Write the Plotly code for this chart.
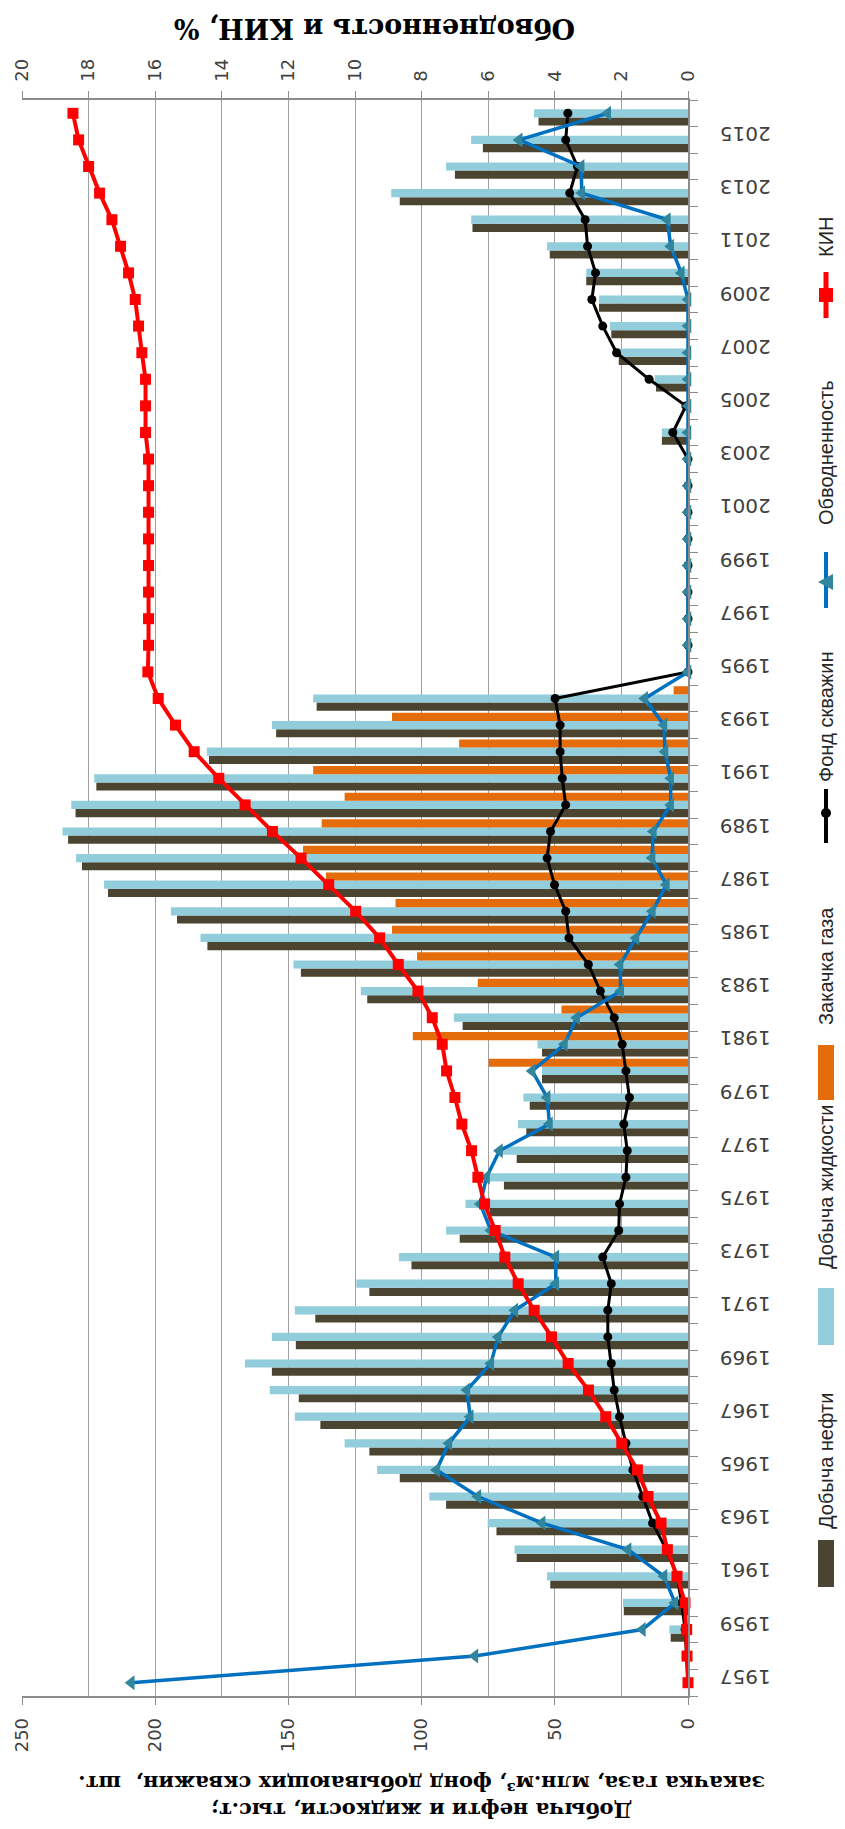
import plotly.graph_objects as go

# ---- data -------------------------------------------------------------
years = list(range(1957, 2017))

# Добыча нефти, тыс.т
oil = [0, 0, 6.5, 24.1, 51.7, 64.3, 71.9, 90.8, 108.2, 119.6,
       138.0, 146.1, 156.2, 147.2, 139.9, 119.6, 103.8, 85.7, 74.5, 69.1,
       64.3, 60.7, 59.4, 54.8, 54.8, 84.6, 120.4, 145.3, 180.4, 191.8,
       217.7, 227.5, 232.7, 229.9, 222.1, 179.8, 154.6, 139.4, 0, 0,
       0, 0, 0, 0, 0, 0, 0, 9.8, 0, 12.0,
       26.0, 28.8, 33.4, 38.2, 51.9, 80.9, 108.2, 87.5, 77.0, 56.1]

# Добыча жидкости, тыс.т
liquid = [0, 0, 7.0, 24.4, 52.9, 65.1, 75.2, 97.1, 116.7, 128.9,
          147.6, 157.0, 166.3, 156.2, 147.6, 124.5, 108.5, 90.8, 83.5, 74.8,
          70.8, 63.8, 61.8, 54.8, 56.5, 87.9, 122.8, 148.1, 183.0, 194.1,
          219.2, 229.7, 234.8, 231.5, 222.9, 180.6, 156.2, 140.7, 0, 0,
          0, 0, 0, 0, 0, 0, 0, 9.8, 0, 12.5,
          26.5, 29.3, 33.4, 38.2, 52.9, 81.4, 111.4, 90.8, 81.4, 57.8]

# Закачка газа, млн.м3
gas = [None] * 23 + [74.8, 103.3, 47.5, 78.9, 101.7, 111.1, 109.8,
                     135.9, 144.5, 137.5, 128.9, 140.7, 85.9, 111.1, 5.4] + [None] * 22

# Фонд добывающих скважин, шт.
wells = [0, 0.5, 1.1, 2.4, 4.1, 8.1, 13.3, 17.0, 20.7, 23.3,
         25.7, 27.7, 28.8, 30.1, 30.1, 28.8, 32.0, 26.0, 25.7, 23.3,
         22.8, 24.1, 22.0, 23.3, 24.7, 27.7, 32.9, 37.4, 44.7, 45.9,
         50.1, 52.9, 51.6, 45.9, 47.2, 48.0, 48.0, 49.9, 0, 0,
         0, 0, 0, 0, 0, 0, 0, 5.7, 0.8, 14.6,
         26.8, 32.0, 36.1, 34.7, 37.7, 38.6, 44.4, 41.5, 45.9, 45.1]

# Обводненность, %
water_cut = [16.72, 6.40, 1.37, 0.39, 0.72, 1.80, 4.38, 6.31, 7.55, 7.18,
             6.54, 6.64, 5.92, 5.70, 5.20, 3.97, 3.97, 5.92, 6.24, 6.05,
             5.66, 4.16, 4.23, 4.68, 3.71, 3.34, 2.02, 2.04, 1.56, 1.07,
             0.65, 1.08, 1.04, 0.52, 0.52, 0.69, 0.72, 1.30, 0, 0,
             0, 0, 0, 0, 0, 0, 0, 0, 0, 0,
             0, 0, 0, 0.20, 0.52, 0.62, 3.19, 3.21, 5.07, 2.41]

# КИН, %
kin = [0.0, 0.03, 0.04, 0.09, 0.33, 0.62, 0.81, 1.20, 1.52, 1.99,
       2.47, 2.99, 3.60, 4.10, 4.62, 5.10, 5.50, 5.79, 6.11, 6.31,
       6.50, 6.79, 7.00, 7.25, 7.38, 7.68, 8.11, 8.70, 9.26, 9.98,
       10.79, 11.62, 12.48, 13.30, 14.09, 14.83, 15.39, 15.91, 16.22, 16.20,
       16.20, 16.20, 16.20, 16.20, 16.20, 16.20, 16.20, 16.29, 16.29, 16.29,
       16.40, 16.50, 16.60, 16.80, 17.04, 17.30, 17.67, 18.00, 18.30, 18.47]

year_ticks = list(range(1957, 2016, 2))
year_labels = [str(y) for y in year_ticks]
left_ticks = [0, 50, 100, 150, 200, 250]
right_ticks = list(range(0, 21, 2))

# ---- page geometry (pixels) ------------------------------------------
W, H = 845, 1829
PL, PR, PT, PB = 22, 688, 100, 1696


def fx(xp):
    return (xp - PL) / (PR - PL)


def fy(yp):
    return (PB - yp) / (PB - PT)


C_OIL = "#4A4431"
C_LIQ = "#92CDDC"
C_GAS = "#E46C0A"
C_WC_LINE = "#0070C0"
C_WC_MARK = "#31859C"
C_KIN = "#FF0000"
GRID = "#A0A0A0"
AXIS = "#8C8C8C"

fig = go.Figure()

fig.add_trace(go.Bar(y=years, x=oil, orientation="h", name="Добыча нефти",
                     marker=dict(color=C_OIL, line=dict(width=0))))
fig.add_trace(go.Bar(y=years, x=liquid, orientation="h", name="Добыча жидкости",
                     marker=dict(color=C_LIQ, line=dict(width=0))))
fig.add_trace(go.Bar(y=years, x=gas, orientation="h", name="Закачка газа",
                     marker=dict(color=C_GAS, line=dict(width=0))))

fig.add_trace(go.Scatter(y=years, x=wells, mode="lines+markers", name="Фонд скважин",
                         cliponaxis=False,
                         line=dict(color="black", width=3),
                         marker=dict(symbol="circle", size=9, color="black")))
fig.add_trace(go.Scatter(y=years, x=water_cut, xaxis="x2", mode="lines+markers",
                         name="Обводненность", cliponaxis=False,
                         line=dict(color=C_WC_LINE, width=3.5),
                         marker=dict(symbol="triangle-left", size=13, color=C_WC_MARK)))
fig.add_trace(go.Scatter(y=years, x=kin, xaxis="x2", mode="lines+markers", name="КИН",
                         cliponaxis=False,
                         line=dict(color=C_KIN, width=4),
                         marker=dict(symbol="square", size=11, color=C_KIN)))

tick_font = dict(family="DejaVu Sans", size=18, color="#404040")

fig.update_layout(
    width=W, height=H,
    margin=dict(l=PL, r=W - PR, t=PT, b=H - PB, pad=0),
    paper_bgcolor="white", plot_bgcolor="white",
    barmode="group", bargap=0.08, bargroupgap=0.0,
    showlegend=False,
    xaxis=dict(range=[250, 0], tickvals=left_ticks, tickangle=-90,
               tickfont=tick_font, showgrid=True, gridcolor=GRID, gridwidth=1.2,
               minor=dict(tick0=0, dtick=25, showgrid=True, gridcolor=GRID, gridwidth=1.2),
               showline=True, linecolor=AXIS, linewidth=1.5,
               ticks="outside", ticklen=7, tickcolor=AXIS, ticklabelstandoff=6,
               zeroline=False),
    xaxis2=dict(range=[20, 0], tickvals=right_ticks, overlaying="x", side="top",
                anchor="y", tickangle=-90, tickfont=tick_font, showgrid=False,
                showline=True, linecolor=AXIS, linewidth=1.5,
                ticks="outside", ticklen=7, tickcolor=AXIS, ticklabelstandoff=6,
                zeroline=False),
    yaxis=dict(range=[1956.5, 2016.5], side="right", tickvals=year_ticks,
               ticktext=year_labels, tickangle=180,
               tickfont=dict(family="DejaVu Sans", size=20, color="#404040"),
               showgrid=False, zeroline=False, showline=True, linecolor=AXIS,
               linewidth=1.5, ticks="", ticklabelstandoff=77,
               minor=dict(tickvals=[1956.5 + i for i in range(61)], ticks="outside",
                          ticklen=8, tickcolor=AXIS, tickwidth=1.2)),
)

# axis titles, drawn upside down
fig.add_annotation(text="<b>Обводненность и КИН, %</b>", xref="paper", yref="paper",
                   x=fx(375), y=fy(28), xanchor="center", yanchor="middle",
                   textangle=180, showarrow=False,
                   font=dict(family="DejaVu Serif", size=27, color="black"))
fig.add_annotation(text="<b>Добыча нефти и жидкости, тыс.т;<br>"
                        "закачка газа, млн.м³, фонд добывающих скважин,  шт.</b>",
                   xref="paper", yref="paper", x=fx(422), y=fy(1797),
                   xanchor="center", yanchor="middle",
                   textangle=180, showarrow=False, align="center",
                   font=dict(family="DejaVu Serif", size=21, color="black"))

# legend along the right edge, reading upwards
legend_font = dict(family="Liberation Sans", size=20, color="#262626")
LX = 826
for label, center in [("Добыча нефти", 1461), ("Добыча жидкости", 1187),
                      ("Закачка газа", 966), ("Фонд скважин", 717),
                      ("Обводненность", 453), ("КИН", 237)]:
    fig.add_annotation(text=label, xref="paper", yref="paper", x=fx(LX), y=fy(center),
                       xanchor="center", yanchor="middle",
                       textangle=-90, showarrow=False, font=legend_font)

for color, y0, y1 in [(C_OIL, 1540, 1587), (C_LIQ, 1288, 1345), (C_GAS, 1045, 1100)]:
    fig.add_shape(type="rect", xref="paper", yref="paper",
                  x0=fx(LX - 8), x1=fx(LX + 8), y0=fy(y1), y1=fy(y0),
                  fillcolor=color, line=dict(width=0))

# line keys
for color, width, y0, y1 in [("black", 4, 789, 843), (C_WC_LINE, 4, 552, 608),
                             (C_KIN, 5, 272, 318)]:
    fig.add_shape(type="line", xref="paper", yref="paper",
                  x0=fx(LX), x1=fx(LX), y0=fy(y0), y1=fy(y1),
                  line=dict(color=color, width=width))
fig.add_shape(type="circle", xref="paper", yref="paper",
              x0=fx(LX - 5), x1=fx(LX + 5), y0=fy(818), y1=fy(808),
              fillcolor="black", line=dict(width=0))
tri = "M {} {} L {} {} L {} {} Z".format(fx(LX - 8), fy(582), fx(LX + 7), fy(574),
                                         fx(LX + 7), fy(590))
fig.add_shape(type="path", xref="paper", yref="paper", path=tri,
              fillcolor=C_WC_MARK, line=dict(width=0))
fig.add_shape(type="rect", xref="paper", yref="paper",
              x0=fx(LX - 7), x1=fx(LX + 7), y0=fy(302), y1=fy(288),
              fillcolor=C_KIN, line=dict(width=0))

fig.write_html("out.html")
